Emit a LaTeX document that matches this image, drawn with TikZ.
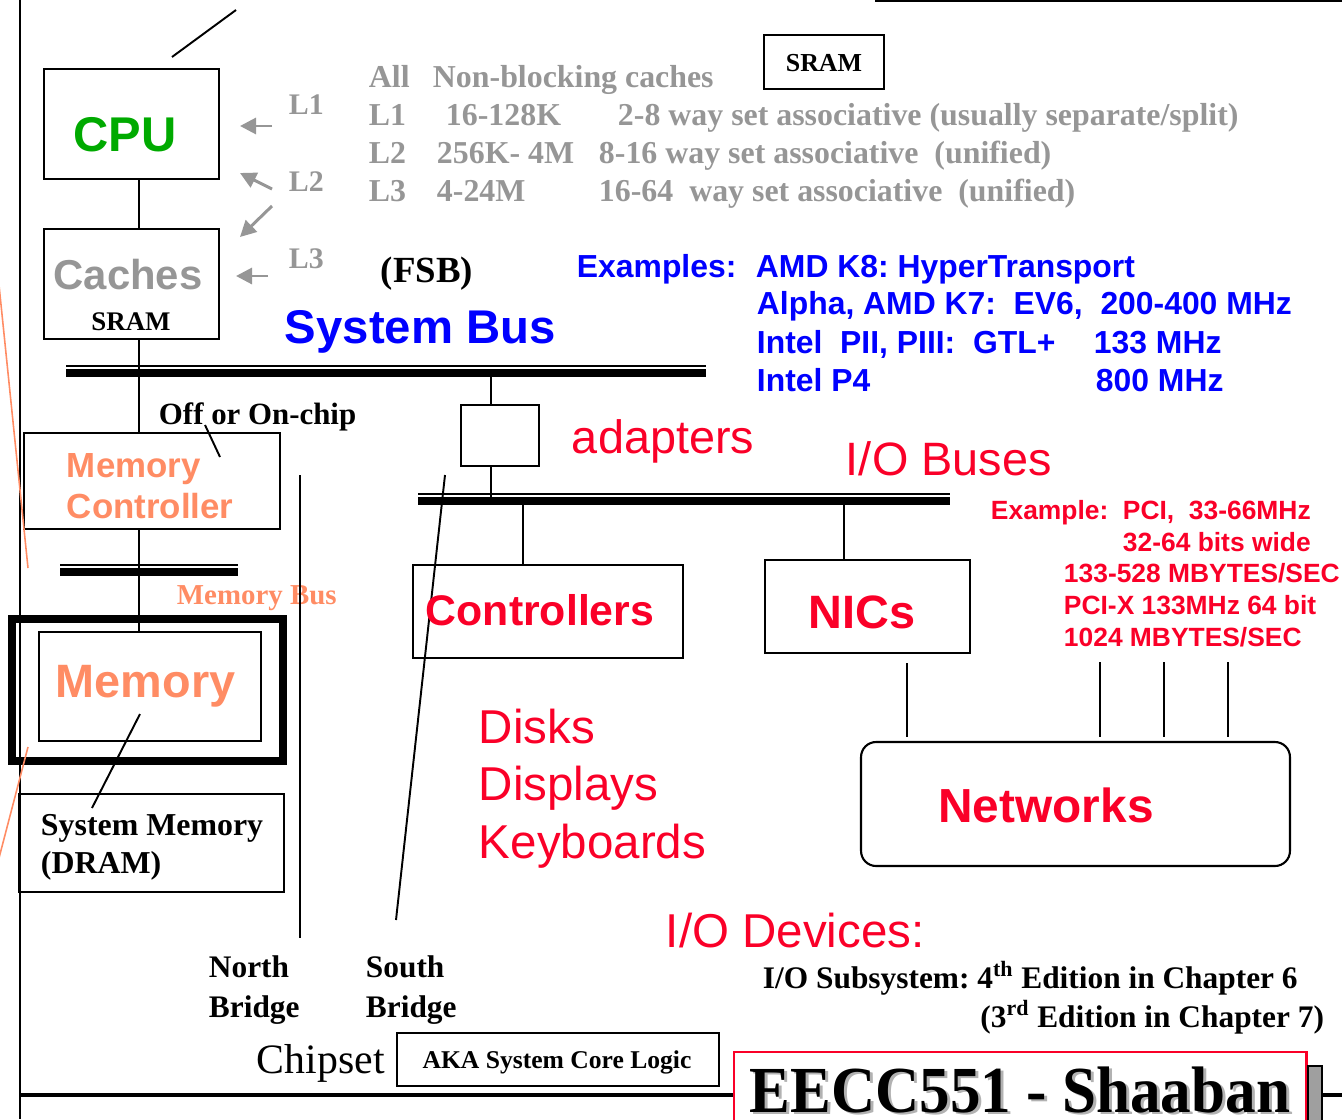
\documentclass[tikz,border=0pt]{standalone}
\usepackage{fontspec}
\setmainfont{Liberation Serif}
\setsansfont{Liberation Sans}
\usepackage{graphicx}
\usetikzlibrary{arrows.meta}

\definecolor{cpugreen}{RGB}{0,170,0}
\definecolor{cachegray}{RGB}{150,150,150}
\definecolor{memorange}{RGB}{255,140,100}
\definecolor{iored}{RGB}{250,0,40}
\definecolor{busblue}{RGB}{0,0,255}

\newdimen\pxunit \pxunit=0.5669pt
\newcommand\pxfont[2]{\fontsize{#1\pxunit}{#2\pxunit}\selectfont}
\newcommand\busline[2]{%
	\draw[line width=4pt] (#1) -- (#2);
	\draw[line width=0.85pt] ([yshift=0.14cm]#1) -- ([yshift=0.14cm]#2);}
\frenchspacing

\begin{document}
\begin{tikzpicture}[x=0.02cm,y=-0.02cm,>={Triangle[length=0.32cm,width=0.32cm]},
		line width=1.1pt,
		box/.style={draw,line width=1.2pt,inner sep=0pt},
		lbl/.style={inner sep=0pt,anchor=base west},
		gray table/.style={lbl,text=cachegray,font=\rmfamily\bfseries\pxfont{32}{38}},
		blue line/.style={lbl,text=busblue,font=\sffamily\bfseries\pxfont{32}{38}},
		pci line/.style={lbl,text=iored,font=\sffamily\bfseries\pxfont{26.5}{32}},
		serif bold/.style={lbl,font=\rmfamily\bfseries\pxfont{#1}{40}}
		]
		\useasboundingbox (0,0) rectangle (1342,1119);

		% frame
		\draw[line width=1.2pt] (20,0) -- (20,1119);
		\draw[line width=1.2pt] (875,1) -- (1342,1);
		\coordinate (tick-a) at (172,57);
		\coordinate (tick-b) at (236,10);
		\draw (tick-a) -- (tick-b);

		% CPU and caches
		\node[box,minimum width=3.5cm,minimum height=2.2cm] (cpu) at (131.5,124) {};
		\node[inner sep=0pt,anchor=base,text=cpugreen,font=\sffamily\bfseries\pxfont{49}{58}] (cpu-t) at (125,151) {CPU};
		\node[box,minimum width=3.5cm,minimum height=2.2cm] (caches) at (131.5,284) {};
		\node[inner sep=0pt,anchor=base,text=cachegray,font=\sffamily\bfseries\pxfont{42}{50}] (caches-t) at (128,289) {Caches};
		\node[inner sep=0pt,anchor=base,font=\rmfamily\bfseries\pxfont{27}{32}] (caches-s) at (131,330) {SRAM};

		\node[lbl,text=cachegray,font=\rmfamily\bfseries\pxfont{30}{36}] (l1) at (288,114) {L1};
		\node[lbl,text=cachegray,font=\rmfamily\bfseries\pxfont{30}{36}] (l2) at (288,191) {L2};
		\node[lbl,text=cachegray,font=\rmfamily\bfseries\pxfont{30}{36}] (l3) at (288,268) {L3};
		\coordinate (a1-s) at (272,126);  \coordinate (a1-e) at (240,126);
		\coordinate (a2-s) at (272,189);  \coordinate (a2-e) at (240,173);
		\coordinate (a3-s) at (272,206);  \coordinate (a3-e) at (240,237);
		\coordinate (a4-s) at (268,276);  \coordinate (a4-e) at (236,276);
		\foreach \i in {1,...,4}
			\draw[->,cachegray,line width=1.7pt] (a\i-s) -- (a\i-e);

		\node[gray table] (t-all) at (368,87) {All};
		\node[gray table] (t-nb) at (432,87) {Non-blocking caches};
		\node[gray table] (t-l1) at (368,125) {L1};
		\node[gray table] (t-l1s) at (445,125) {16-128K};
		\node[gray table] (t-l1w) at (617,125) {2-8 way set associative (usually separate/split)};
		\node[gray table] (t-l2) at (368,163) {L2};
		\node[gray table] (t-l2s) at (436,163) {256K- 4M};
		\node[gray table] (t-l2w) at (598,163) {8-16 way set associative\ \ (unified)};
		\node[gray table] (t-l3) at (368,201) {L3};
		\node[gray table] (t-l3s) at (436,201) {4-24M};
		\node[gray table] (t-l3w) at (598,201) {16-64\ \ way set associative\ \ (unified)};

		\node[box,minimum width=2.4cm,minimum height=1.08cm] (sram) at (824,62) {};
		\node[inner sep=0pt,anchor=base,font=\rmfamily\bfseries\pxfont{26}{31}] (sram-t) at (824,71) {SRAM};

		% system bus
		\node[serif bold=37] (fsb) at (380,282) {(FSB)};
		\node[lbl,text=busblue,font=\sffamily\bfseries\pxfont{47.5}{56}] (sysbus-t) at (284,343) {System Bus};
		\node[blue line] (ex-a) at (576,277) {Examples:};
		\node[blue line] (ex-b) at (755,277) {AMD K8: HyperTransport};
		\node[blue line] (ex-c) at (756,314) {Alpha, AMD K7:\ \ EV6,\ \ 200-400 MHz};
		\node[blue line] (ex-d) at (756,353) {Intel\ \ PII, PIII:\ \ GTL+};
		\node[blue line] (ex-d2) at (1093,353) {133 MHz};
		\node[blue line] (ex-e) at (756,391) {Intel P4};
		\node[blue line] (ex-e2) at (1095,391) {800 MHz};

		\coordinate (sbus-w) at (66,373);
		\coordinate (sbus-e) at (706,373);
		\busline{sbus-w}{sbus-e}

		% memory side
		\node[serif bold=31] (offchip) at (158,424) {Off or On-chip};
		\node[box,minimum width=5.12cm,minimum height=1.92cm] (memctl) at (152,481) {};
		\node[lbl,align=left,text=memorange,font=\sffamily\bfseries\pxfont{35}{41}] (memctl-t) at (66,518) {Memory\\Controller};
		\coordinate (off-a) at (205,425);
		\coordinate (off-b) at (220,457);
		\draw (off-a) -- (off-b);

		\coordinate (mbus-w) at (60,572);
		\coordinate (mbus-e) at (238,572);
		\busline{mbus-w}{mbus-e}
		\node[lbl,text=memorange,font=\rmfamily\bfseries\pxfont{29}{35}] (mbus-t) at (176,604) {Memory Bus};

		\node[draw,line width=4.5pt,minimum width=5.42cm,minimum height=2.84cm] (memframe) at (147.5,690) {};
		\node[box,minimum width=4.44cm,minimum height=2.18cm] (memin) at (150,686.5) {};
		\node[lbl,text=memorange,font=\sffamily\bfseries\pxfont{47}{56}] (memin-t) at (55,697) {Memory};
		\node[box,minimum width=5.3cm,minimum height=1.96cm] (dram) at (151.5,843) {};
		\node[lbl,align=left,font=\rmfamily\bfseries\pxfont{32}{38}] (dram-t) at (40,873) {System Memory\\(DRAM)};
		\coordinate (mp-a) at (140,714);
		\coordinate (mp-b) at (92,808);
		\draw (mp-a) -- (mp-b);

		\coordinate (spine) at (139,0);
		\draw (spine |- cpu.south) -- (spine |- caches.north);
		\draw (spine |- caches.south) -- (spine |- memctl.north);
		\draw (spine |- memctl.south) -- (spine |- memin.north);

		\coordinate (or-a) at (-1,285);
		\coordinate (or-b) at (28,568);
		\coordinate (or-c) at (28,747);
		\coordinate (or-d) at (-1,858);
		\draw[memorange,line width=0.9pt] (or-a) -- (or-b);
		\draw[memorange,line width=0.9pt] (or-c) -- (or-d);

		% bridges
		\coordinate (nb-a) at (300,475);
		\coordinate (nb-b) at (300,938);
		\coordinate (sb-a) at (445,475);
		\coordinate (sb-b) at (396,920);
		\draw (nb-a) -- (nb-b);
		\draw (sb-a) -- (sb-b);
		\node[serif bold=31.5,align=left] (north) at (208,1017) {North\\Bridge};
		\node[serif bold=31.5,align=left] (south) at (365,1017) {South\\Bridge};
		\node[lbl,font=\rmfamily\pxfont{42}{50}] (chipset) at (256,1073) {Chipset};
		\node[box,minimum width=6.44cm,minimum height=1.06cm] (aka) at (558,1059.5) {};
		\node[inner sep=0pt,anchor=base,font=\rmfamily\bfseries\pxfont{25.7}{31}] (aka-t) at (557,1068) {AKA System Core Logic};

		% I/O side
		\node[box,minimum width=1.56cm,minimum height=1.22cm] (adapter) at (500,435.5) {};
		\node[lbl,text=iored,font=\sffamily\pxfont{47}{56}] (adapter-t) at (571,453) {adapters};
		\node[lbl,text=iored,font=\sffamily\pxfont{47}{56}] (iobus-t) at (845,475) {I/O Buses};
		\coordinate (iobus-w) at (418,501);
		\coordinate (iobus-e) at (950,501);
		\busline{iobus-w}{iobus-e}
		\coordinate (adx) at (491,0);
		\draw (adx |- sbus-w) -- (adx |- adapter.north);
		\draw (adx |- adapter.south) -- (adx |- iobus-w);

		\node[box,minimum width=5.4cm,minimum height=1.86cm] (ctl) at (548,611.5) {};
		\node[inner sep=0pt,anchor=base,text=iored,font=\sffamily\bfseries\pxfont{43}{52}] (ctl-t) at (540,625) {Controllers};
		\node[box,minimum width=4.1cm,minimum height=1.86cm] (nics) at (867.5,606.5) {};
		\node[inner sep=0pt,anchor=base,text=iored,font=\sffamily\bfseries\pxfont{47}{56}] (nics-t) at (862,628) {NICs};
		\coordinate (ctlx) at (523,0);
		\coordinate (nicx) at (844,0);
		\draw (ctlx |- iobus-w) -- (ctlx |- ctl.north);
		\draw (nicx |- iobus-w) -- (nicx |- nics.north);

		\node[box,rounded corners=0.3cm,minimum width=8.58cm,minimum height=2.48cm] (net) at (1075.5,804) {};
		\node[inner sep=0pt,anchor=base,text=iored,font=\sffamily\bfseries\pxfont{48}{57}] (net-t) at (1046,822) {Networks};
		\coordinate (nicnet) at (907,0);
		\draw[shorten <=0.18cm,shorten >=0.08cm] (nicnet |- nics.south) -- (nicnet |- net.north);
		\foreach \x [count=\i] in {1100,1164,1228} {
			\coordinate (nl\i) at (\x,662);
			\draw[shorten >=0.08cm] (nl\i) -- (nl\i |- net.north);
		}

		\node[pci line] (pci-a) at (990,519) {Example:\ \ PCI,\ \ 33-66MHz};
		\node[pci line] (pci-b) at (1122,551) {32-64 bits wide};
		\node[pci line] (pci-c) at (1063,582) {133-528 MBYTES/SEC};
		\node[pci line] (pci-d) at (1063,614) {PCI-X 133MHz 64 bit};
		\node[pci line] (pci-e) at (1063,646) {1024 MBYTES/SEC};

		\node[lbl,align=left,text=iored,font=\sffamily\pxfont{47.7}{57.5}] (devs) at (478,858) {Disks\\Displays\\Keyboards};
		\node[lbl,text=iored,font=\sffamily\pxfont{47.7}{57}] (iodev) at (665,947) {I/O Devices:};

		\node[serif bold=31.5] (sub-a) at (762,988) {I/O Subsystem: 4\textsuperscript{th} Edition in Chapter 6};
		\node[serif bold=31.5,anchor=base east] (sub-b) at (1325,1027) {(3\textsuperscript{rd} Edition in Chapter 7)};

		% footer
		\node[draw=iored,line width=1.2pt,minimum width=11.46cm,minimum height=1.6cm] (eecc) at (1020,1092) {};
		\node[draw,line width=1.1pt,fill=gray!75,minimum width=0.28cm,minimum height=1.2cm,inner sep=0pt] (shade) at (1315,1096) {};
		\coordinate (foot-w) at (20,1095);
		\coordinate (foot-e) at (1342,1095);
		\draw[line width=2.8pt] (foot-w) -- (foot-w -| eecc.west);
		\draw[line width=2.8pt] (foot-e -| shade.east) -- (foot-e);
		\node[lbl,text=gray!60,font=\rmfamily\bfseries\pxfont{66}{78}] (eecc-s) at (752,1114) {\scalebox{0.93}[1]{EECC551 - Shaaban}};
		\node[lbl,font=\rmfamily\bfseries\pxfont{66}{78}] (eecc-t) at (749,1112) {\scalebox{0.93}[1]{EECC551 - Shaaban}};
\end{tikzpicture}
\end{document}
